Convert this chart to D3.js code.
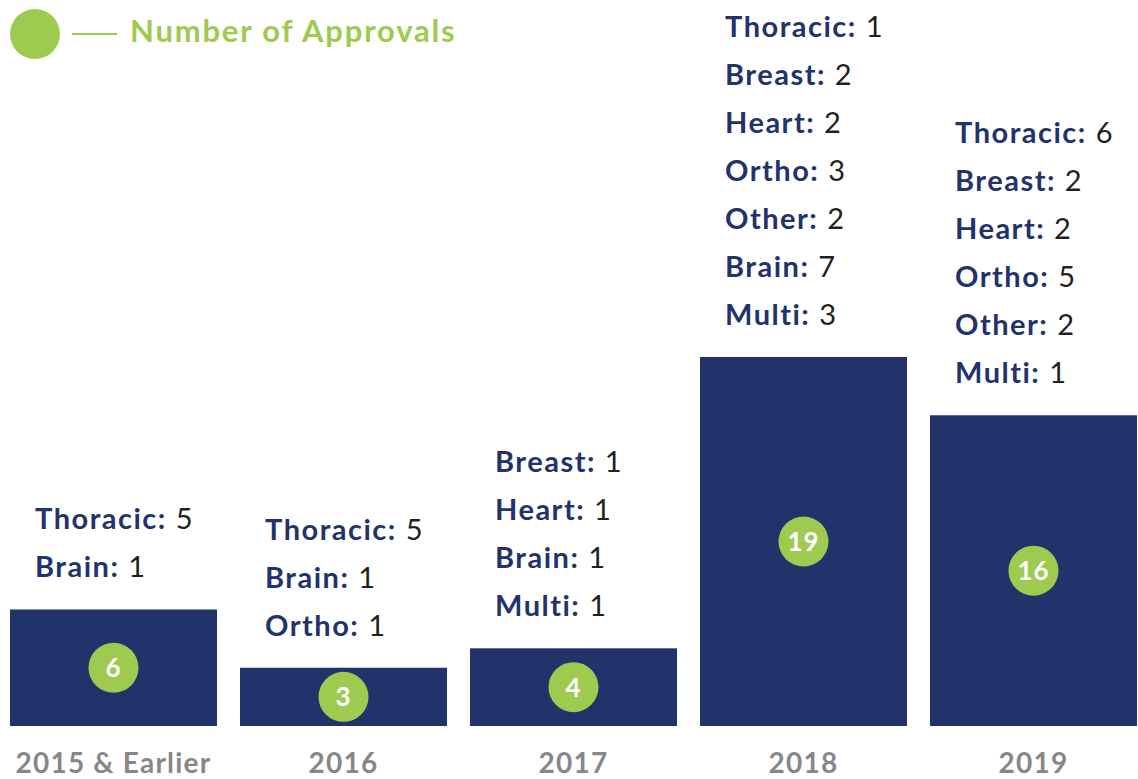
<!DOCTYPE html>
<html>
<head>
<meta charset="utf-8">
<script src="https://cdn.jsdelivr.net/npm/d3@7"></script>
<style>
  body { margin: 0; background: #fff; }
  svg { display: block; font-family: Lato, "Noto Sans", sans-serif; font-variant-ligatures: none; }
</style>
</head>
<body>
<script>
// chart data
var years = ["2015 & Earlier", "2016", "2017", "2018", "2019"];
var totals = [6, 3, 4, 19, 16];
var breakdown = [
  [["Thoracic", 5], ["Brain", 1]],
  [["Thoracic", 5], ["Brain", 1], ["Ortho", 1]],
  [["Breast", 1], ["Heart", 1], ["Brain", 1], ["Multi", 1]],
  [["Thoracic", 1], ["Breast", 2], ["Heart", 2], ["Ortho", 3], ["Other", 2], ["Brain", 7], ["Multi", 3]],
  [["Thoracic", 6], ["Breast", 2], ["Heart", 2], ["Ortho", 5], ["Other", 2], ["Multi", 1]]
];
var legendLabel = "Number of Approvals";

var width = 1138, height = 779;
var navy = "#22336b", green = "#9dca4f", grey = "#87878a", ink = "#231f20";

var svg = d3.select("body").append("svg")
  .attr("width", width)
  .attr("height", height);

var x = d3.scaleBand()
  .domain(years)
  .range([10, 1137])
  .paddingInner(0.1)
  .paddingOuter(0);

var y = d3.scaleLinear()
  .domain([0, 19])
  .range([726, 357]);

var bw = x.bandwidth();

var groups = svg.selectAll(".year")
  .data(years.map(function (d, i) { return { year: d, total: totals[i], items: breakdown[i] }; }))
  .enter().append("g")
  .attr("class", "year");

// bars
groups.append("rect")
  .attr("x", function (d) { return x(d.year); })
  .attr("y", function (d) { return y(d.total); })
  .attr("width", bw)
  .attr("height", function (d) { return y(0) - y(d.total); })
  .attr("fill", navy);

// total badges
groups.append("circle")
  .attr("cx", function (d) { return x(d.year) + bw / 2; })
  .attr("cy", function (d) { return (y(d.total) + y(0)) / 2; })
  .attr("r", 25)
  .attr("fill", green);

groups.append("text")
  .attr("x", function (d) { return x(d.year) + bw / 2; })
  .attr("y", function (d) { return (y(d.total) + y(0)) / 2; })
  .attr("dy", "0.36em")
  .attr("text-anchor", "middle")
  .attr("fill", "#fff")
  .attr("font-size", 26)
  .attr("font-weight", 700)
  .attr("letter-spacing", 1)
  .text(function (d) { return d.total; });

// category breakdown above the bars
groups.each(function (d) {
  var g = d3.select(this);
  var n = d.items.length;
  d.items.forEach(function (item, j) {
    var t = g.append("text")
      .attr("x", x(d.year) + 25)
      .attr("y", y(d.total) - 32 - (n - 1 - j) * 48)
      .attr("font-size", 29)
      .attr("letter-spacing", 1.5);
    t.append("tspan")
      .attr("font-weight", 700)
      .attr("fill", navy)
      .text(item[0] + ":");
    t.append("tspan")
      .attr("fill", ink)
      .text(" " + item[1]);
  });
});

// year labels
groups.append("text")
  .attr("x", function (d) { return x(d.year) + bw / 2; })
  .attr("y", 773)
  .attr("text-anchor", "middle")
  .attr("fill", grey)
  .attr("font-size", 28)
  .attr("font-weight", 700)
  .attr("letter-spacing", 1.2)
  .text(function (d) { return d.year; });

// legend
var legend = svg.append("g");
legend.append("circle")
  .attr("cx", 35).attr("cy", 34).attr("r", 25)
  .attr("fill", green);
legend.append("line")
  .attr("x1", 72).attr("x2", 117)
  .attr("y1", 34).attr("y2", 34)
  .attr("stroke", green).attr("stroke-width", 2);
legend.append("text")
  .attr("x", 130).attr("y", 42)
  .attr("fill", green)
  .attr("font-size", 31)
  .attr("font-weight", 700)
  .attr("letter-spacing", 1.8)
  .text(legendLabel);
</script>
</body>
</html>
